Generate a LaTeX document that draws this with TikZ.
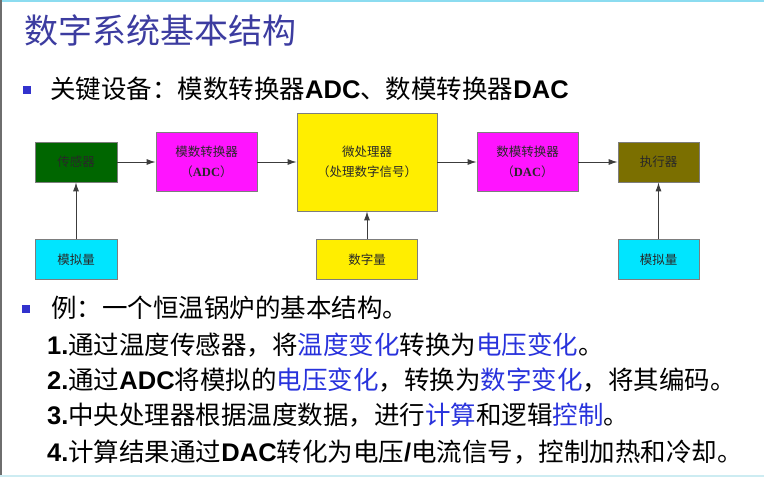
\documentclass[tikz,border=0pt]{standalone}
\usepackage{fontspec}
\setmainfont{Noto Sans CJK SC}
\newfontfamily\latinfont{Liberation Sans}
\newfontfamily\serifen{Liberation Serif}
\usepackage{tikz}
\usetikzlibrary{positioning, arrows.meta}

\definecolor{titleblue}{RGB}{60,60,160}
\definecolor{hlblue}{RGB}{40,50,220}
\definecolor{bulletblue}{RGB}{50,50,205}
\definecolor{boxgray}{RGB}{125,125,125}
\definecolor{boxtext}{RGB}{40,40,40}
\definecolor{arrowgray}{RGB}{60,60,60}
\definecolor{sensorgreen}{RGB}{0,102,0}
\definecolor{convmagenta}{RGB}{255,20,255}
\definecolor{cpuyellow}{RGB}{255,238,0}
\definecolor{inputcyan}{RGB}{0,229,255}
\definecolor{actolive}{RGB}{123,111,0}
\definecolor{topline}{RGB}{140,220,240}
\definecolor{edgegray}{RGB}{110,110,110}
\definecolor{bottomline}{RGB}{205,236,242}

\newcommand{\hl}[1]{\textcolor{hlblue}{#1}}
\newcommand{\en}[1]{{\latinfont\bfseries #1}}
\newcommand{\bx}[1]{{\serifen\bfseries #1}}

\begin{document}
\begin{tikzpicture}[x=1pt, y=-1pt,
        blk/.style={draw=boxgray, line width=0.8pt, text=boxtext, align=center,
            inner sep=0pt, font=\fontsize{12.5}{20}\selectfont},
        flow/.style={draw=arrowgray, line width=0.9pt, -{Latex[length=9pt, width=6pt]}},
        txt/.style={anchor=base west, inner sep=0pt, font=\fontsize{25.5}{30}\selectfont},
        bullet/.style={fill=bulletblue, minimum size=8pt, inner sep=0pt}]
        \useasboundingbox (0,0) rectangle (764,477);

        % Slide edges
        \fill[topline] (0,0) rectangle (764,2);
        \fill[edgegray] (0,0) rectangle (1.5,477);
        \fill[bottomline] (0,474.5) rectangle (764,477);

        % Title and first bullet
        \node[anchor=base west, inner sep=0pt, text=titleblue, font=\fontsize{34}{40}\selectfont] (title) at (24,43.6) {数字系统基本结构};
        \node[bullet] (dot1) at (27,90) {};
        \node[txt] (keydev) at (50,98.4) {关键设备：模数转换器\en{ADC}、数模转换器\en{DAC}};

        % Create blocks
        \node[blk, fill=sensorgreen, minimum width=82pt, minimum height=40pt] (sensor) at (76,162) {传感器};
        \node[blk, fill=convmagenta, minimum width=101pt, minimum height=59pt] (adc) at (206.5,162) {模数转换器\\（\bx{ADC}）};
        \node[blk, fill=cpuyellow, minimum width=140pt, minimum height=98pt] (cpu) at (367,162) {微处理器\\（处理数字信号）};
        \node[blk, fill=convmagenta, minimum width=101pt, minimum height=59pt] (dac) at (527.5,162) {数模转换器\\（\bx{DAC}）};
        \node[blk, fill=actolive, minimum width=81pt, minimum height=40pt] (actuator) at (658.5,162) {执行器};

        \node[blk, fill=inputcyan, minimum width=82pt, minimum height=40pt, below=57pt of sensor] (analogin) {模拟量};
        \node[blk, fill=cpuyellow, minimum width=101pt, minimum height=40pt, below=28pt of cpu] (digitalin) {数字量};
        \node[blk, fill=inputcyan, minimum width=81pt, minimum height=40pt, below=57pt of actuator] (analogout) {模拟量};

        % Draw arrows between blocks
        \draw[flow] (sensor) -- (adc);
        \draw[flow] (adc) -- (cpu);
        \draw[flow] (cpu) -- (dac);
        \draw[flow] (dac) -- (actuator);
        \draw[flow] (analogin) -- (sensor);
        \draw[flow] (digitalin) -- (cpu);
        \draw[flow] (analogout) -- (actuator);

        % Example bullet and steps
        \node[bullet] (dot2) at (26,309) {};
        \node[txt] (example) at (51,317.4) {例：一个恒温锅炉的基本结构。};
        \node[txt] (step1) at (47,354.4) {\en{1.}通过温度传感器，将\hl{温度变化}转换为\hl{电压变化}。};
        \node[txt] (step2) at (47,389.4) {\en{2.}通过\en{ADC}将模拟的\hl{电压变化}，转换为\hl{数字变化}，将其编码。};
        \node[txt] (step3) at (47,424.4) {\en{3.}中央处理器根据温度数据，进行\hl{计算}和逻辑\hl{控制}。};
        \node[txt] (step4) at (47,461.4) {\en{4.}计算结果通过\en{DAC}转化为电压\en{/}电流信号，控制加热和冷却。};
    \end{tikzpicture}
\end{document}
